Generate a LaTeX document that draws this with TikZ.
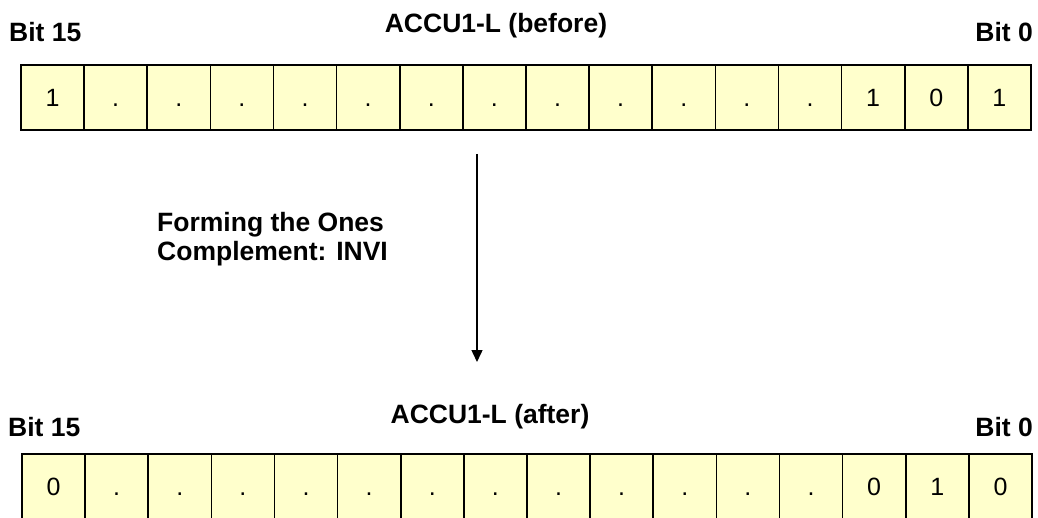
\documentclass[tikz,border=0pt]{standalone}
\usepackage{fontspec}
\setmainfont{Liberation Sans}
\usetikzlibrary{arrows.meta}
\definecolor{cellfill}{HTML}{FFFFCC}
\tikzset{
  cell/.style={draw=black, line width=1.6pt, fill=cellfill, minimum width=63.125pt,
    minimum height=65pt, inner sep=0pt, text height=18pt, text depth=0pt,
    font=\fontsize{25}{30}\selectfont},
  label/.style={font=\fontsize{26.5}{29}\selectfont\bfseries, inner sep=0pt, anchor=base},
  flow/.style={line width=1.5pt, -{Triangle[length=12pt,width=11pt]}}
}
\begin{document}
\begin{tikzpicture}[x=1pt,y=-1pt]
\useasboundingbox (0,0) rectangle (1038,518);
% register before the operation
\node[label, anchor=base west] (tl) at (9,42) {Bit 15};
\node[label] (tt) at (496,33) {ACCU1-L (before)};
\node[label, anchor=base east] (tr) at (1033,42) {Bit 0};
\foreach \v [count=\i from 0] in {1,.,.,.,.,.,.,.,.,.,.,.,.,1,0,1}
  \node[cell] (t\i) at ({21+63.125*(\i+0.5)},97.5) {\v};
% operation
\coordinate (as) at (477,154);
\coordinate (ae) at (477,362);
\draw[flow] (as) -- (ae);
\node[font=\fontsize{26.5}{29}\selectfont\bfseries, align=left, anchor=base west, inner sep=0pt]
  (op) at (157,261) {Forming the Ones\\Complement: INVI};
% register after the operation
\node[label, anchor=base west] (bl) at (8,436) {Bit 15};
\node[label] (bt) at (490,423) {ACCU1-L (after)};
\node[label, anchor=base east] (br) at (1033,436) {Bit 0};
\foreach \v [count=\i from 0] in {0,.,.,.,.,.,.,.,.,.,.,.,.,0,1,0}
  \node[cell] (b\i) at ({22+63.125*(\i+0.5)},486.5) {\v};
\end{tikzpicture}
\end{document}
